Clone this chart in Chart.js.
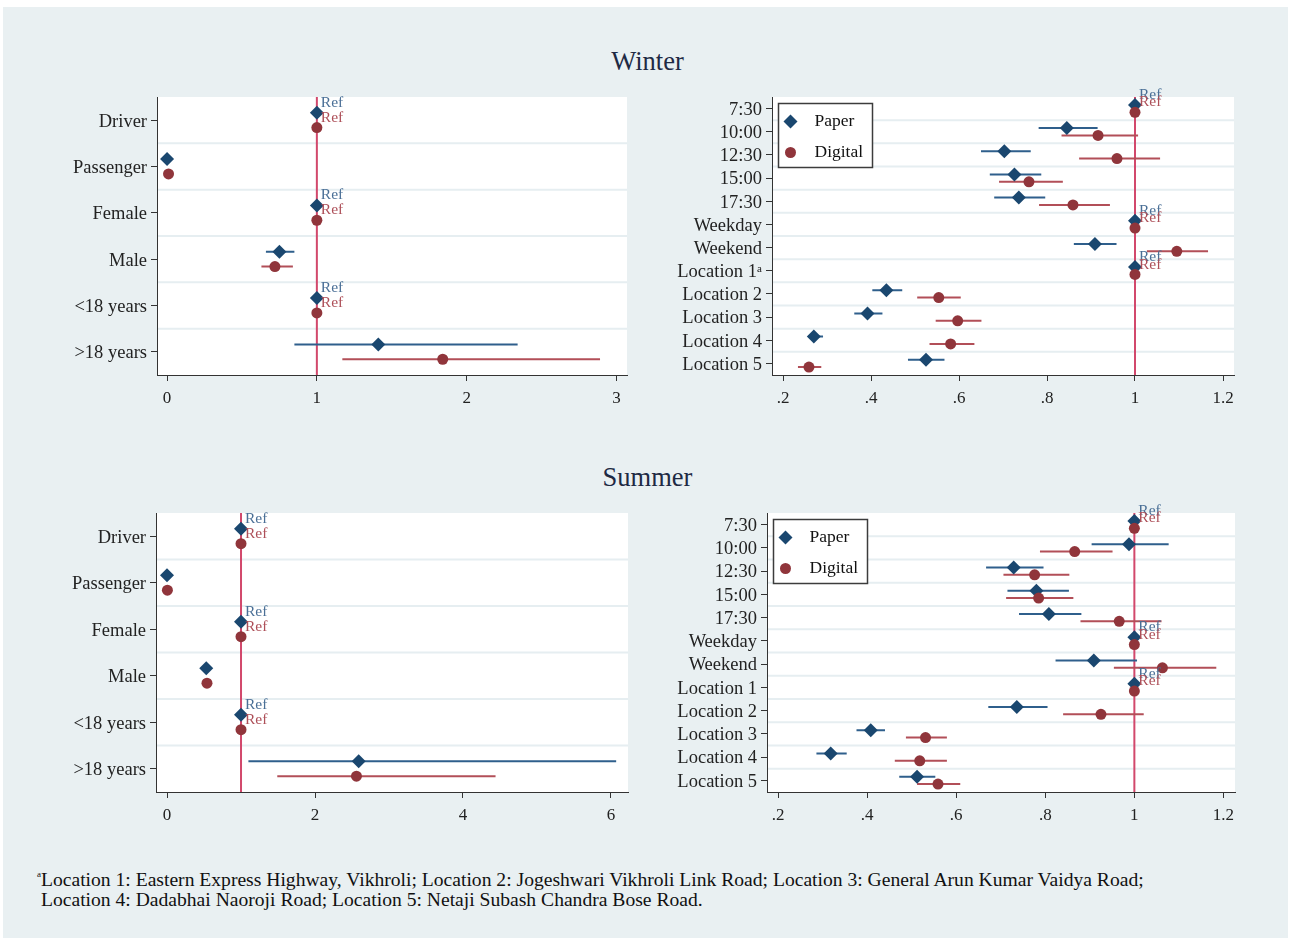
<!DOCTYPE html>
<html>
<head>
<meta charset="utf-8">
<script src="https://cdn.jsdelivr.net/npm/chart.js@4.4.1/dist/chart.umd.min.js"></script>
<style>
  body { margin:0; background:#fff; width:1290px; height:938px; overflow:hidden; position:relative;
         font-family:"Liberation Serif","Times New Roman",serif; }
  #panel { position:absolute; left:3px; top:7px; width:1285px; height:931px; background:#e9f0f2; }
  .title { position:absolute; left:0; width:1295px; text-align:center; font-size:26.5px; line-height:30px; color:#1e2a44; }
  .box { position:absolute; }
  #note { position:absolute; left:37px; top:870px; font-size:19.6px; line-height:20px; color:#111; }
  #note sup { font-size:9px; vertical-align:9px; line-height:0; }
</style>
</head>
<body>
<div id="panel"></div>
<div class="title" style="top:46px">Winter</div>
<div class="title" style="top:462px">Summer</div>
<div class="box" style="left:0;top:80px"><canvas id="wl" width="640" height="340"></canvas></div>
<div class="box" style="left:640px;top:80px"><canvas id="wr" width="620" height="340"></canvas></div>
<div class="box" style="left:0;top:496px"><canvas id="sl" width="640" height="340"></canvas></div>
<div class="box" style="left:640px;top:496px"><canvas id="sr" width="620" height="340"></canvas></div>
<div id="note"><sup>a</sup>Location 1: Eastern Express Highway, Vikhroli; Location 2: Jogeshwari Vikhroli Link Road; Location 3: General Arun Kumar Vaidya Road;<br><span style="padding-left:4px">Location 4: Dadabhai Naoroji Road; Location 5: Netaji Subash Chandra Bose Road.</span></div>

<script>
// categories
const leftCats = ['Driver', 'Passenger', 'Female', 'Male', '<18 years', '>18 years'];
const winterRightCats = ['7:30', '10:00', '12:30', '15:00', '17:30', 'Weekday', 'Weekend',
  'Location 1\u1d43', 'Location 2', 'Location 3', 'Location 4', 'Location 5'];
const summerRightCats = ['7:30', '10:00', '12:30', '15:00', '17:30', 'Weekday', 'Weekend',
  'Location 1', 'Location 2', 'Location 3', 'Location 4', 'Location 5'];
// reference categories (value fixed at 1)
const leftRef = [true, false, true, false, true, false];
const rightRef = [true, false, false, false, false, true, false, true, false, false, false, false];

// x ticks
const winterLeftTicks = [0, 1, 2, 3];
const winterLeftTickLabels = ['0', '1', '2', '3'];
const summerLeftTicks = [0, 2, 4, 6];
const summerLeftTickLabels = ['0', '2', '4', '6'];
const rightTicks = [0.2, 0.4, 0.6, 0.8, 1, 1.2];
const rightTickLabels = ['.2', '.4', '.6', '.8', '1', '1.2'];

// winter, left
const wlPaper = [1, 0.00, 1, 0.75, 1, 1.41];
const wlPaperLo = [null, null, null, 0.66, null, 0.85];
const wlPaperHi = [null, null, null, 0.85, null, 2.34];
const wlDigital = [1, 0.01, 1, 0.72, 1, 1.84];
const wlDigitalLo = [null, null, null, 0.63, null, 1.17];
const wlDigitalHi = [null, null, null, 0.84, null, 2.89];

// winter, right
const wrPaper = [1, 0.845, 0.703, 0.726, 0.736, 1, 0.909, 1, 0.435, 0.392, 0.270, 0.525];
const wrPaperLo = [null, 0.781, 0.650, 0.670, 0.680, null, 0.861, null, 0.403, 0.362, 0.257, 0.484];
const wrPaperHi = [null, 0.915, 0.763, 0.787, 0.796, null, 0.958, null, 0.471, 0.426, 0.291, 0.567];
const wrDigital = [1, 0.916, 0.959, 0.759, 0.859, 1, 1.095, 1, 0.554, 0.597, 0.581, 0.259];
const wrDigitalLo = [null, 0.833, 0.873, 0.691, 0.782, null, 1.027, null, 0.505, 0.547, 0.533, 0.234];
const wrDigitalHi = [null, 1.007, 1.057, 0.836, 0.943, null, 1.166, null, 0.604, 0.651, 0.635, 0.287];

// summer, left
const slPaper = [1, 0.00, 1, 0.53, 1, 2.59];
const slPaperLo = [null, null, null, null, null, 1.10];
const slPaperHi = [null, null, null, null, null, 6.07];
const slDigital = [1, 0.005, 1, 0.54, 1, 2.56];
const slDigitalLo = [null, null, null, null, null, 1.49];
const slDigitalHi = [null, null, null, null, null, 4.44];

// summer, right
const srPaper = [1, 0.988, 0.729, 0.780, 0.808, 1, 0.909, 1, 0.736, 0.408, 0.318, 0.512];
const srPaperLo = [null, 0.904, 0.667, 0.715, 0.741, null, 0.823, null, 0.672, 0.376, 0.286, 0.472];
const srPaperHi = [null, 1.077, 0.796, 0.853, 0.881, null, 1.006, null, 0.805, 0.440, 0.354, 0.553];
const srDigital = [1, 0.866, 0.776, 0.785, 0.966, 1, 1.063, 1, 0.925, 0.531, 0.518, 0.559];
const srDigitalLo = [null, 0.788, 0.706, 0.712, 0.879, null, 0.954, null, 0.840, 0.487, 0.462, 0.512];
const srDigitalHi = [null, 0.951, 0.854, 0.863, 1.061, null, 1.184, null, 1.021, 0.579, 0.579, 0.609];

const SERIF = "'Liberation Serif', 'Times New Roman', serif";
const NAVY = '#1a476f', MAROON = '#90353b';
const SHIFT = 0.16;   // paper above, digital below the category line

function points(vals, shift) {
  return vals.map((v, i) => ({x: v, y: i + shift}));
}
function ciLine(lo, hi, shift) {
  const out = [];
  for (let i = 0; i < lo.length; i++) {
    if (lo[i] == null) continue;
    out.push({x: lo[i], y: i + shift}, {x: hi[i], y: i + shift}, {x: null, y: null});
  }
  return out;
}

const bandsPlugin = {
  id: 'bands',
  beforeDraw(chart) {
    const a = chart.chartArea, ctx = chart.ctx;
    ctx.save();
    ctx.fillStyle = '#fff';
    ctx.fillRect(a.left, a.top, a.right - a.left, a.bottom - a.top);
    ctx.restore();
  },
  beforeDatasetsDraw(chart) {
    const a = chart.chartArea, ctx = chart.ctx, ys = chart.scales.y;
    const n = chart.options.plugins.bands.n;
    ctx.save();
    ctx.strokeStyle = '#e6eef1';
    ctx.lineWidth = 2;
    for (let i = 0; i < n - 1; i++) {
      const py = ys.getPixelForValue(i + 0.5);
      ctx.beginPath();
      ctx.moveTo(a.left + 1, py);
      ctx.lineTo(a.right, py);
      ctx.stroke();
    }
    ctx.restore();
  }
};

const refPlugin = {
  id: 'refLabels',
  afterDatasetsDraw(chart) {
    const o = chart.options.plugins.refLabels;
    const ctx = chart.ctx, xs = chart.scales.x, ys = chart.scales.y;
    ctx.save();
    ctx.font = '15.5px ' + SERIF;
    ctx.textAlign = 'left';
    ctx.textBaseline = 'middle';
    o.flags.forEach((f, i) => {
      if (!f) return;
      const px = xs.getPixelForValue(1) + 4;
      ctx.fillStyle = '#4a6f96';
      ctx.fillText('Ref', px, ys.getPixelForValue(i - SHIFT) - 10);
      ctx.fillStyle = '#ad4f58';
      ctx.fillText('Ref', px, ys.getPixelForValue(i + SHIFT) - 10);
    });
    ctx.restore();
  }
};

const boxLegendPlugin = {
  id: 'boxLegend',
  afterDraw(chart) {
    if (!chart.options.plugins.boxLegend.show) return;
    const a = chart.chartArea, ctx = chart.ctx;
    const l = a.left + 6.5, t = a.top + 6.5;
    ctx.save();
    ctx.fillStyle = '#fff';
    ctx.strokeStyle = '#3c3c3c';
    ctx.lineWidth = 1.5;
    ctx.fillRect(l, t, 94, 64);
    ctx.strokeRect(l, t, 94, 64);
    // diamond
    ctx.fillStyle = NAVY;
    ctx.beginPath();
    ctx.moveTo(l + 12, t + 11); ctx.lineTo(l + 19, t + 18); ctx.lineTo(l + 12, t + 25); ctx.lineTo(l + 5, t + 18);
    ctx.closePath(); ctx.fill();
    // circle
    ctx.fillStyle = MAROON;
    ctx.beginPath();
    ctx.arc(l + 12, t + 49, 5.5, 0, Math.PI * 2);
    ctx.fill();
    ctx.fillStyle = '#111';
    ctx.font = '17.5px ' + SERIF;
    ctx.textBaseline = 'middle';
    ctx.fillText('Paper', l + 36, t + 18);
    ctx.fillText('Digital', l + 36, t + 49);
    ctx.restore();
  }
};

function makePanel(id, cats, refFlags, paper, paperLo, paperHi, digital, digitalLo, digitalHi,
                   xTicks, xLabels, xMin, xMax, yWidth, pad, legend) {
  const n = cats.length;
  new Chart(document.getElementById(id), {
    type: 'scatter',
    data: {
      datasets: [
        {
          type: 'line', data: [{x: 1, y: -0.5}, {x: 1, y: n - 0.5}],
          borderColor: '#d2486c', borderWidth: 2, pointRadius: 0, order: 3
        },
        {
          type: 'line', data: ciLine(paperLo, paperHi, -SHIFT), spanGaps: false,
          borderColor: '#2f5f8c', borderWidth: 2, pointRadius: 0, order: 2
        },
        {
          type: 'line', data: ciLine(digitalLo, digitalHi, SHIFT), spanGaps: false,
          borderColor: '#b24f58', borderWidth: 2, pointRadius: 0, order: 2
        },
        {
          label: 'Paper', data: points(paper, -SHIFT), pointStyle: 'rectRot', pointRadius: 7,
          backgroundColor: NAVY, borderWidth: 0, order: 1
        },
        {
          label: 'Digital', data: points(digital, SHIFT), pointStyle: 'circle', pointRadius: 5.5,
          backgroundColor: MAROON, borderWidth: 0, order: 0
        }
      ]
    },
    options: {
      responsive: false,
      animation: false,
      devicePixelRatio: 1,
      layout: {padding: {top: pad.top, right: pad.right, left: 0, bottom: 0}},
      scales: {
        x: {
          type: 'linear', min: xMin, max: xMax,
          afterBuildTicks: s => { s.ticks = xTicks.map(v => ({value: v})); },
          afterFit: s => { s.height = pad.xh; },
          ticks: {
            autoSkip: false, maxRotation: 0, padding: 7,
            color: '#222', font: {family: SERIF, size: 17},
            callback: v => xLabels[xTicks.indexOf(v)]
          },
          grid: {drawOnChartArea: false, drawTicks: true, tickLength: 6, color: '#333', lineWidth: 1},
          border: {color: '#333', width: 1}
        },
        y: {
          type: 'linear', min: -0.5, max: n - 0.5, reverse: true,
          afterBuildTicks: s => { s.ticks = cats.map((c, i) => ({value: i})); },
          afterFit: s => { s.width = yWidth; },
          ticks: {
            autoSkip: false, padding: 4, labelOffset: 1.5,
            color: '#222', font: {family: SERIF, size: 18.5},
            callback: v => cats[v]
          },
          grid: {drawOnChartArea: false, drawTicks: true, tickLength: 6, color: '#333', lineWidth: 1},
          border: {color: '#333', width: 1}
        }
      },
      plugins: {
        legend: {display: false},
        tooltip: {enabled: false},
        bands: {n: n},
        refLabels: {flags: refFlags},
        boxLegend: {show: legend}
      }
    },
    plugins: [bandsPlugin, refPlugin, boxLegendPlugin]
  });
}

makePanel('wl', leftCats, leftRef, wlPaper, wlPaperLo, wlPaperHi, wlDigital, wlDigitalLo, wlDigitalHi,
  winterLeftTicks, winterLeftTickLabels, -0.067, 3.07, 157, {top: 17, right: 13, xh: 45}, false);
makePanel('wr', winterRightCats, rightRef, wrPaper, wrPaperLo, wrPaperHi, wrDigital, wrDigitalLo, wrDigitalHi,
  rightTicks, rightTickLabels, 0.175, 1.225, 132, {top: 17, right: 26, xh: 45}, true);
makePanel('sl', leftCats, leftRef, slPaper, slPaperLo, slPaperHi, slDigital, slDigitalLo, slDigitalHi,
  summerLeftTicks, summerLeftTickLabels, -0.149, 6.23, 156, {top: 17, right: 12, xh: 44}, false);
makePanel('sr', summerRightCats, rightRef, srPaper, srPaperLo, srPaperHi, srDigital, srDigitalLo, srDigitalHi,
  rightTicks, rightTickLabels, 0.175, 1.226, 127, {top: 17, right: 25, xh: 44}, true);
</script>
</body>
</html>
